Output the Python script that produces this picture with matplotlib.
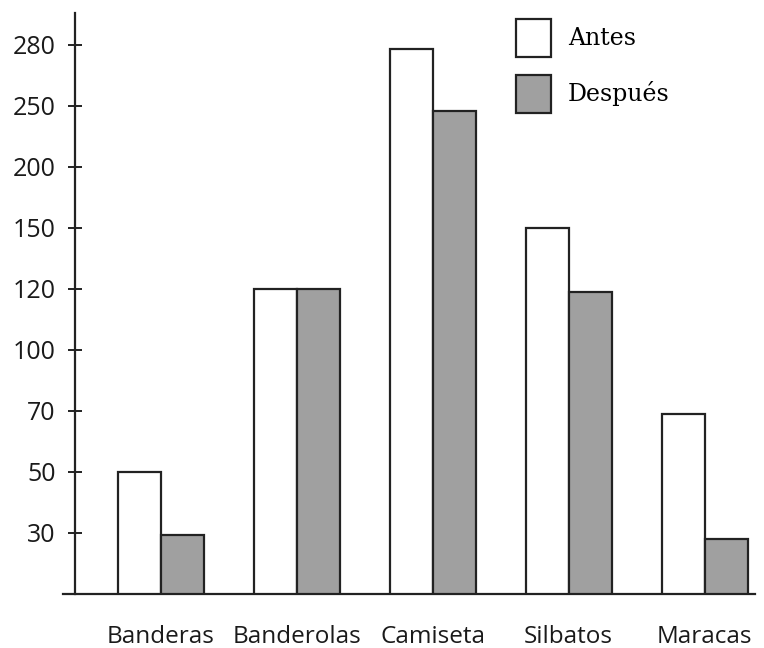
import numpy as np
import matplotlib
matplotlib.use("Agg")
import matplotlib.pyplot as plt

categories = ["Banderas", "Banderolas", "Camiseta", "Silbatos", "Maracas"]
antes = [50, 120, 278, 150, 69]
despues = [29, 120, 246, 119, 27]
tick_values = [30, 50, 70, 100, 120, 150, 200, 250, 280]

# non-linear axis: each tick sits one even step apart
scale_vals = np.array([0, 30, 50, 70, 100, 120, 150, 200, 250, 280, 340], dtype=float)
scale_pos = np.array([0, 1, 2, 3, 4, 5, 6, 7, 8, 9, 11], dtype=float)

def fwd(v):
    return np.interp(v, scale_vals, scale_pos)

def inv(p):
    return np.interp(p, scale_pos, scale_vals)

fig = plt.figure(figsize=(7.64, 6.48), dpi=100)
ax = fig.add_axes([63/764, 54/648, (755-63)/764, (635-54)/648])
ax.set_yscale("function", functions=(fwd, inv))

x = np.arange(len(categories))
w = 0.316
ax.bar(x - w/2, antes, width=w, color="white", edgecolor="#222222", linewidth=1.6, label="Antes", zorder=3)
ax.bar(x + w/2, despues, width=w, color="#a0a0a0", edgecolor="#222222", linewidth=1.6, label="Después", zorder=3)

ax.set_xlim(-0.72, 4.37)
ax.set_ylim(0, inv(9.52))

ax.spines["top"].set_visible(False)
ax.spines["right"].set_visible(False)
ax.spines["left"].set_position(("data", -0.632))
for s in ("left", "bottom"):
    ax.spines[s].set_linewidth(1.6)
    ax.spines[s].set_color("#222222")

ax.set_yticks(tick_values)
ax.set_yticklabels([str(v) for v in tick_values], fontsize=18, family="Open Sans", color="#1a1a1a")
ax.yaxis.set_minor_locator(matplotlib.ticker.NullLocator())
ax.tick_params(axis="y", direction="inout", length=10, width=1.4, color="#222222", pad=9)

ax.set_xticks(x)
ax.set_xticklabels(categories, fontsize=17.5, family="Open Sans", color="#1a1a1a")
ax.tick_params(axis="x", length=0, pad=22)

leg = ax.legend(loc="upper left", bbox_to_anchor=(516/764, 1 - 19/648), bbox_transform=fig.transFigure,
                frameon=False, prop={"family": "DejaVu Serif", "size": 17},
                handlelength=1.48, handleheight=2.1, labelspacing=0.76, handletextpad=0.72,
                borderpad=0, borderaxespad=0)

fig.savefig("out.png", dpi=100)
